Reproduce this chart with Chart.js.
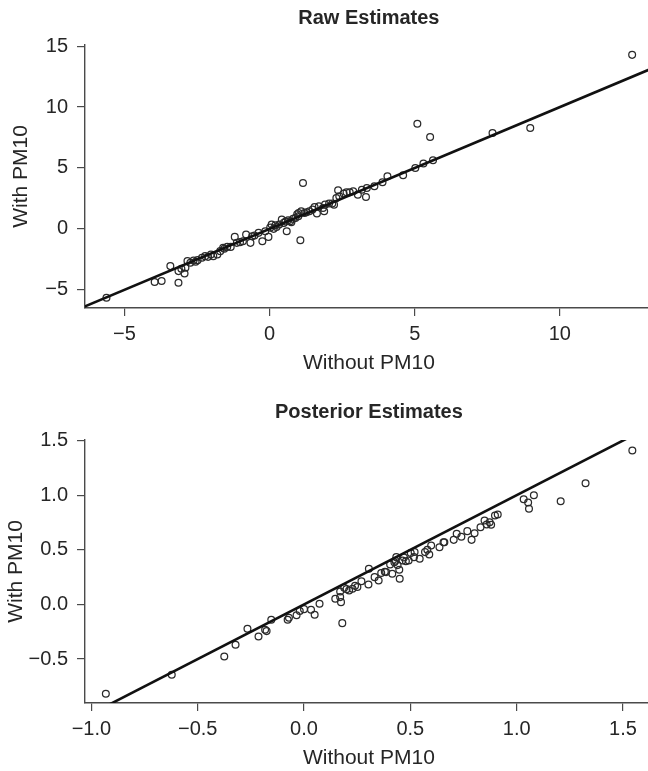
<!DOCTYPE html>
<html>
<head>
<meta charset="utf-8">
<script src="https://cdn.jsdelivr.net/npm/chart.js@4.4.1/dist/chart.umd.min.js"></script>
<style>
  html, body { margin: 0; background: #fff; overflow: hidden; }
  .panel { position: absolute; left: 0; }
</style>
</head>
<body>
<div class="panel" style="top:0"><canvas id="rawChart" width="658" height="380"></canvas></div>
<div class="panel" style="top:380px"><canvas id="postChart" width="658" height="391"></canvas></div>
<script>
// Raw estimates: [without PM10, with PM10]
const rawPoints = [
  [-5.62,-5.66], [-3.96,-4.37], [-3.72,-4.29], [-3.14,-4.43], [-3.42,-3.06],
  [-3.14,-3.47], [-3.04,-3.27], [-2.93,-3.66], [-2.90,-3.20], [-2.83,-2.65],
  [-2.73,-2.79], [-2.62,-2.60], [-2.55,-2.70], [-2.48,-2.57], [-2.33,-2.38],
  [-2.22,-2.24], [-2.12,-2.30], [-2.02,-2.10], [-1.94,-2.24], [-1.80,-2.10],
  [-1.70,-1.83], [-1.60,-1.55], [-1.56,-1.64], [-1.46,-1.48], [-1.34,-1.48],
  [-1.20,-0.66], [-1.13,-1.15], [-1.02,-1.09], [-0.92,-1.01], [-0.81,-0.46],
  [-0.66,-1.15], [-0.60,-0.60], [-0.52,-0.55], [-0.38,-0.33], [-0.25,-1.01],
  [-0.15,-0.20], [-0.04,-0.66], [0.02,0.10], [0.07,0.36], [0.14,0.00],
  [0.20,0.30], [0.24,0.16], [0.33,0.36], [0.42,0.77], [0.49,0.49],
  [0.55,0.60], [0.59,-0.19], [0.64,0.71], [0.71,0.63], [0.75,0.55],
  [0.81,0.82], [0.89,0.90], [0.95,1.20], [0.99,1.04], [1.00,1.30],
  [1.06,-0.93], [1.09,1.45], [1.15,3.77], [1.20,1.31], [1.27,1.37],
  [1.37,1.45], [1.48,1.58], [1.55,1.80], [1.63,1.26], [1.70,1.86],
  [1.84,1.72], [1.88,1.45], [1.91,1.99], [2.05,2.08], [2.16,2.08],
  [2.22,1.99], [2.30,2.54], [2.36,3.17], [2.40,2.68], [2.55,2.90],
  [2.65,3.00], [2.76,3.01], [2.88,3.09], [3.04,2.81], [3.18,3.22],
  [3.32,2.62], [3.35,3.36], [3.61,3.50], [3.89,3.83], [4.06,4.32],
  [4.60,4.40], [5.02,5.00], [5.09,8.63], [5.30,5.36], [5.53,7.54],
  [5.63,5.63], [7.68,7.87], [8.98,8.28], [12.49,14.29]
];

// Posterior estimates: [without PM10, with PM10]
const postPoints = [
  [-0.932,-0.817], [-0.622,-0.643], [-0.375,-0.476], [-0.322,-0.369], [-0.266,-0.223],
  [-0.214,-0.293], [-0.183,-0.232], [-0.176,-0.244], [-0.154,-0.140], [-0.077,-0.140],
  [-0.071,-0.122], [-0.035,-0.098], [-0.020,-0.060], [0.000,-0.043], [0.033,-0.049],
  [0.050,-0.095], [0.073,0.006], [0.147,0.052], [0.170,0.067], [0.174,0.021],
  [0.180,-0.171], [0.170,0.119], [0.189,0.152], [0.200,0.140], [0.212,0.128],
  [0.228,0.143], [0.240,0.170], [0.251,0.159], [0.270,0.213], [0.303,0.183],
  [0.305,0.326], [0.332,0.250], [0.351,0.220], [0.363,0.287], [0.380,0.300],
  [0.386,0.296], [0.405,0.366], [0.415,0.280], [0.425,0.387], [0.430,0.400],
  [0.434,0.433], [0.440,0.360], [0.448,0.317], [0.450,0.235], [0.463,0.402],
  [0.470,0.430], [0.479,0.396], [0.492,0.402], [0.502,0.470], [0.517,0.433],
  [0.520,0.480], [0.544,0.418], [0.569,0.479], [0.580,0.500], [0.589,0.457],
  [0.598,0.540], [0.637,0.524], [0.656,0.570], [0.660,0.570], [0.704,0.591],
  [0.718,0.646], [0.740,0.620], [0.768,0.671], [0.788,0.591], [0.802,0.652],
  [0.830,0.707], [0.849,0.768], [0.859,0.732], [0.873,0.753], [0.880,0.730],
  [0.898,0.814], [0.911,0.823], [1.033,0.963], [1.054,0.933], [1.058,0.875],
  [1.081,1.000], [1.207,0.945], [1.324,1.110], [1.544,1.409]
];

// axis ranges and tick values (plot region runs a little past the right edge)
const rawXRange = [-6.36, 13.2];
const rawYRange = [-6.5, 15.1];
const rawXTicks = [-5, 0, 5, 10];
const rawYTicks = [-5, 0, 5, 10, 15];

const postXRange = [-1.03, 1.64];
const postYRange = [-0.902, 1.505];
const postXTicks = [-1.0, -0.5, 0.0, 0.5, 1.0, 1.5];
const postYTicks = [-0.5, 0.0, 0.5, 1.0, 1.5];

const FONT = "'Liberation Sans', Arial, sans-serif";
const INK = '#262626';
const AXIS = '#4a4a4a';

function fmt(v, dec) {
  const s = Math.abs(v).toFixed(dec);
  return v < 0 ? '\u2212' + s : s;
}

// title centred over the plot region, like R's main title
const plotTitle = {
  id: 'plotTitle',
  afterDraw(chart, args, opts) {
    const { ctx, chartArea } = chart;
    ctx.save();
    ctx.font = 'bold 20px ' + FONT;
    ctx.fillStyle = INK;
    ctx.textAlign = 'center';
    ctx.textBaseline = 'middle';
    ctx.fillText(opts.text, (chartArea.left + chartArea.right) / 2, opts.y);
    ctx.restore();
  }
};

function makeChart(id, cfg) {
  const lo = Math.min(cfg.xRange[0], cfg.yRange[0]);
  const hi = Math.max(cfg.xRange[1], cfg.yRange[1]);
  return new Chart(document.getElementById(id), {
    type: 'scatter',
    plugins: [plotTitle],
    data: {
      datasets: [
        {
          type: 'line',
          data: [{ x: lo, y: lo }, { x: hi, y: hi }],
          borderColor: '#111',
          borderWidth: 2.6,
          pointRadius: 0,
          order: 0
        },
        {
          data: cfg.points.map(p => ({ x: p[0], y: p[1] })),
          borderColor: '#2a2a2a',
          backgroundColor: 'rgba(0,0,0,0)',
          borderWidth: 1.25,
          pointRadius: 3.4,
          clip: false,
          order: 1
        }
      ]
    },
    options: {
      responsive: false,
      devicePixelRatio: 1,
      animation: false,
      events: [],
      layout: { padding: { top: cfg.top, right: 1, left: 0, bottom: 0 } },
      plugins: {
        legend: { display: false },
        tooltip: { enabled: false },
        title: { display: false },
        plotTitle: { text: cfg.title, y: cfg.titleY }
      },
      scales: {
        x: {
          type: 'linear',
          min: cfg.xRange[0],
          max: cfg.xRange[1],
          afterBuildTicks: s => { s.ticks = cfg.xTicks.map(v => ({ value: v })); },
          afterFit: s => { s.height = cfg.xHeight; },
          grid: { drawOnChartArea: false, drawTicks: true, tickLength: 8, color: AXIS, lineWidth: 1.2 },
          border: { display: true, color: AXIS, width: 1.4 },
          ticks: {
            autoSkip: false, maxRotation: 0, padding: 6, color: INK,
            font: { family: FONT, size: 20 },
            callback: v => fmt(v, cfg.dec)
          },
          title: {
            display: true, text: 'Without PM10', color: INK,
            font: { family: FONT, size: 21 },
            padding: cfg.xTitlePad
          }
        },
        y: {
          type: 'linear',
          min: cfg.yRange[0],
          max: cfg.yRange[1],
          afterBuildTicks: s => { s.ticks = cfg.yTicks.map(v => ({ value: v })); },
          afterFit: s => { s.width = 85; },
          grid: { drawOnChartArea: false, drawTicks: true, tickLength: 8, color: AXIS, lineWidth: 1.2 },
          border: { display: true, color: AXIS, width: 1.4 },
          ticks: {
            autoSkip: false, padding: 9, color: INK,
            font: { family: FONT, size: 20 },
            callback: v => fmt(v, cfg.dec)
          },
          title: {
            display: true, text: 'With PM10', color: INK,
            font: { family: FONT, size: 21 },
            padding: cfg.yTitlePad
          }
        }
      }
    }
  });
}

makeChart('rawChart', {
  title: 'Raw Estimates',
  titleY: 18,
  top: 45,
  points: rawPoints,
  xRange: rawXRange, yRange: rawYRange,
  xTicks: rawXTicks, yTicks: rawYTicks,
  dec: 0,
  xHeight: 72,
  xTitlePad: { top: 0, bottom: 4 },
  yTitlePad: { top: 9, bottom: 0 }
});

makeChart('postChart', {
  title: 'Posterior Estimates',
  titleY: 32,
  top: 60,
  points: postPoints,
  xRange: postXRange, yRange: postYRange,
  xTicks: postXTicks, yTicks: postYTicks,
  dec: 1,
  xHeight: 68,
  xTitlePad: { top: 0, bottom: 0 },
  yTitlePad: { top: 4, bottom: 0 }
});
</script>
</body>
</html>
